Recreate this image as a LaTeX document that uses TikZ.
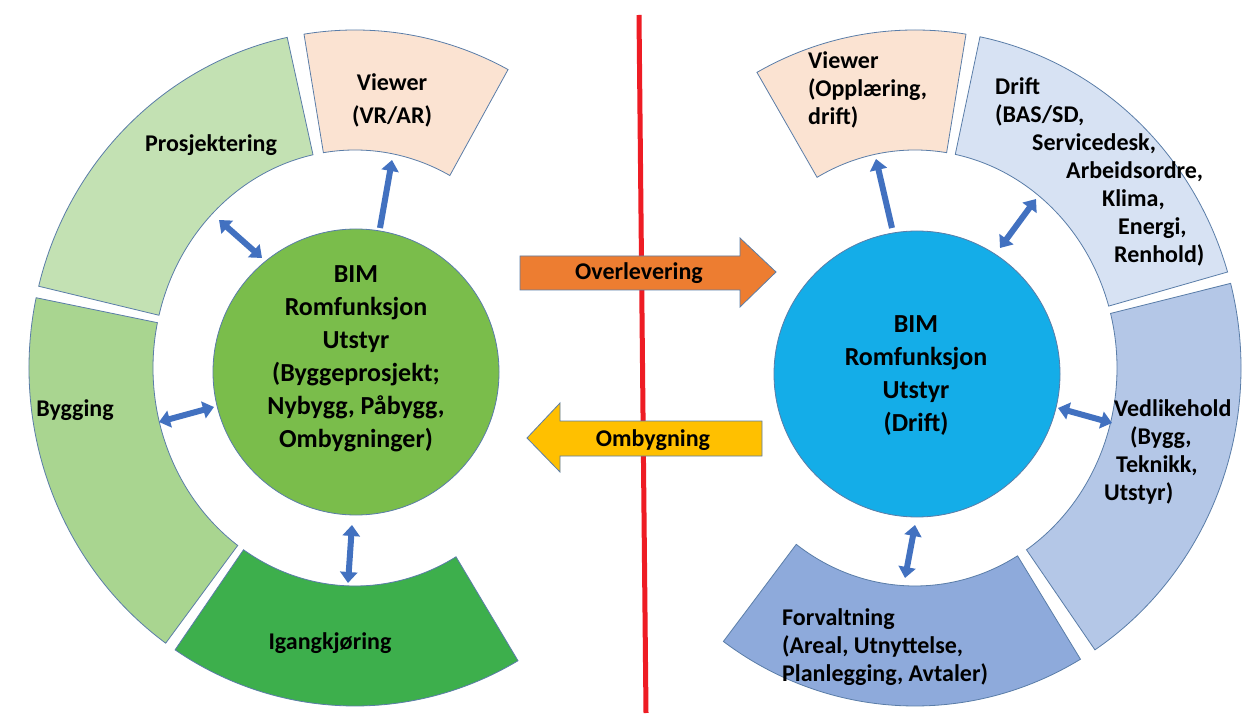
\documentclass[tikz,border=0pt]{standalone}
\usepackage{fontspec}
\setmainfont{Carlito}
\usetikzlibrary{arrows.meta,calc}

\definecolor{edge}{HTML}{5A7DA8}
\definecolor{peach}{HTML}{FBE3D2}
\definecolor{greenA}{HTML}{C3E1B3}
\definecolor{greenB}{HTML}{A9D590}
\definecolor{greenC}{HTML}{3DAF4C}
\definecolor{greenCore}{HTML}{7ABD4B}
\definecolor{blueA}{HTML}{D7E2F3}
\definecolor{blueB}{HTML}{B4C7E7}
\definecolor{blueC}{HTML}{8EAADB}
\definecolor{blueCore}{HTML}{14ADE8}
\definecolor{linkblue}{HTML}{4271C0}
\definecolor{handover}{HTML}{ED7D31}
\definecolor{rebuild}{HTML}{FFC000}
\definecolor{divider}{HTML}{EE1C24}

% one block of a ring: centre, start angle, end angle, style
\newcommand\ringseg[4]{%
  \filldraw[#4] ([shift={(#1)}]#2:326pt and 338pt)
    arc[start angle=#2, end angle=#3, x radius=326pt, y radius=338pt]
    -- ([shift={(#1)}]#3:202pt and 218pt)
    arc[start angle=#3, end angle=#2, x radius=202pt, y radius=218pt]
    -- cycle;}

\begin{document}
\begin{tikzpicture}[x=1pt,y=1pt,
  seg/.style={draw=edge, line width=0.8pt},
  lbl/.style={font=\bfseries\fontsize{24}{28}\selectfont, inner sep=0pt, align=center, text=black},
  core/.style={font=\bfseries\fontsize{26}{33}\selectfont, inner sep=0pt, align=center, text=black},
  link/.style={draw=linkblue, line width=6pt, {Triangle[width=17pt,length=11pt]}-{Triangle[width=17pt,length=11pt]}},
  onelink/.style={draw=linkblue, line width=6pt, -{Triangle[width=17pt,length=11pt]}},
  blockarrow/.style={draw=edge, line width=0.8pt, line join=miter}]
\useasboundingbox (0,0) rectangle (1247,713);
\fill[white] (0,0) rectangle (1247,713);

% ring centres
\coordinate (L) at (355,345);
\coordinate (R) at (915,345);

% divider line
\coordinate (topdiv) at (639,698);
\coordinate (botdiv) at (646,0);
\draw[divider, line width=5pt] (topdiv) -- (botdiv);

% ---- building project ring ----
\ringseg{L}{62}{99}{seg, fill=peach}
\ringseg{L}{102}{166}{seg, fill=greenA}
\ringseg{L}{168}{234.5}{seg, fill=greenB}
\ringseg{L}{236.5}{300}{seg, fill=greenC}
\node[circle, minimum size=286pt, inner sep=0pt, fill=greenCore, draw=edge, line width=0.8pt] (gc) at (356,341) {};

\node[lbl, font=\bfseries\fontsize{24}{33}\selectfont] (viewL) at (392,613) {Viewer\\(VR/AR)};
\node[lbl] (prosj) at (211,568) {Prosjektering};
\node[lbl] (bygg) at (75,303) {Bygging};
\node[lbl] (igang) at (330,70) {Igangkjøring};
\node[core] (gctext) at (356,354) {BIM\\Romfunksjon\\Utstyr\\(Byggeprosjekt;\\Nybygg, Påbygg,\\Ombygninger)};

% ---- operation ring ----
\ringseg{R}{81}{119}{seg, fill=peach}
\ringseg{R}{16.5}{78.5}{seg, fill=blueA}
\ringseg{R}{-56.5}{14.5}{seg, fill=blueB}
\ringseg{R}{234}{300.5}{seg, fill=blueC}
\node[circle, minimum size=286pt, inner sep=0pt, fill=blueCore, draw=edge, line width=0.8pt] (bc) at (917,339) {};

\node[lbl, align=left, anchor=west] (viewR) at (808,623) {Viewer\\(Opplæring,\\drift)};
\node[lbl, align=left, anchor=west] (drift) at (995,541) {Drift\\(BAS/SD,\\\hspace*{37pt}Servicedesk,\\\hspace*{71pt}Arbeidsordre,\\\hspace*{107pt}Klima,\\\hspace*{123pt}Energi,\\\hspace*{119pt}Renhold)};
\node[lbl, align=left, anchor=west] (vedl) at (1104,261) {\hspace*{10pt}Vedlikehold\\\hspace*{26pt}(Bygg,\\\hspace*{12pt}Teknikk,\\Utstyr)};
\node[lbl, align=left, anchor=west] (forv) at (782,66) {Forvaltning\\(Areal, Utnyttelse,\\Planlegging, Avtaler)};
\node[core] (bctext) at (916,337) {BIM\\Romfunksjon\\Utstyr\\(Drift)};

% ---- hand-over arrows ----
\filldraw[blockarrow, fill=handover] (520,457) -- (740,457) -- (740,475) -- (776,441) -- (740,406) -- (740,423) -- (520,423) -- cycle;
\node[lbl] (overl) at (639,440) {Overlevering};
\filldraw[blockarrow, fill=rebuild] (762,292) -- (560,292) -- (560,310) -- (527,275) -- (560,241) -- (560,257) -- (762,257) -- cycle;
\node[lbl] (ombyg) at (653,273) {Ombygning};

% ---- links between core and blocks ----
\coordinate (a1s) at (262,455); \coordinate (a1e) at (219,493);
\coordinate (a2s) at (380,485); \coordinate (a2e) at (392,553);
\coordinate (a3s) at (214,306); \coordinate (a3e) at (159,291);
\coordinate (a4s) at (352,188); \coordinate (a4e) at (348,130);
\draw[link] (a1s) -- (a1e);
\draw[onelink] (a2s) -- (a2e);
\draw[link] (a3s) -- (a3e);
\draw[link] (a4s) -- (a4e);

\coordinate (b1s) at (892,485); \coordinate (b1e) at (876,554);
\coordinate (b2s) at (1000,465); \coordinate (b2e) at (1036,514);
\coordinate (b3s) at (1058,305); \coordinate (b3e) at (1112,290);
\coordinate (b4s) at (915,188); \coordinate (b4e) at (905,135);
\draw[onelink] (b1s) -- (b1e);
\draw[link] (b2s) -- (b2e);
\draw[link] (b3s) -- (b3e);
\draw[link] (b4s) -- (b4e);
\end{tikzpicture}
\end{document}
